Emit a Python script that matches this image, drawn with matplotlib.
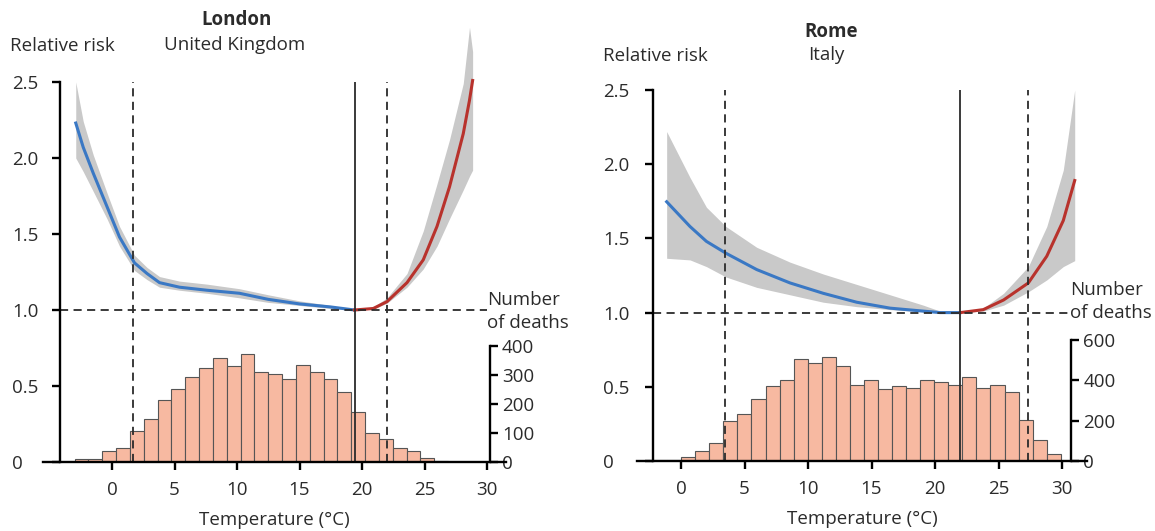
import numpy as np
import matplotlib
matplotlib.use("Agg")
from matplotlib import pyplot as plt

plt.rcParams['font.family'] = ['Open Sans', 'DejaVu Sans']
plt.rcParams['font.size'] = 13.5

# ---- London data ----
lon_cold_t = [-2.9, -2.3, -1.5, -0.4, 0.6, 1.8, 2.8, 3.8, 5.4, 7.6, 10.2, 12.5, 15.0, 17.5, 19.4]
lon_cold_rr = [2.23, 2.07, 1.90, 1.68, 1.48, 1.31, 1.24, 1.18, 1.15, 1.13, 1.11, 1.07, 1.04, 1.02, 1.0]
lon_cold_hi = [2.5, 2.24, 2.02, 1.77, 1.55, 1.36, 1.28, 1.22, 1.19, 1.17, 1.14, 1.10, 1.06, 1.03, 1.0]
lon_cold_lo = [2.0, 1.91, 1.78, 1.60, 1.42, 1.26, 1.20, 1.15, 1.13, 1.11, 1.08, 1.05, 1.03, 1.01, 1.0]

lon_heat_t = [19.4, 20.9, 22.0, 23.6, 24.9, 26.0, 27.0, 28.1, 28.6, 28.85]
lon_heat_rr = [1.0, 1.01, 1.055, 1.18, 1.33, 1.55, 1.81, 2.16, 2.38, 2.51]
lon_heat_hi = [1.0, 1.02, 1.08, 1.24, 1.52, 1.83, 2.12, 2.49, 2.86, 2.70]
lon_heat_lo = [1.0, 1.005, 1.045, 1.15, 1.27, 1.42, 1.60, 1.79, 1.88, 1.92]

lon_deaths = [10, 10, 38, 50, 107, 148, 216, 252, 293, 327, 360, 334, 373, 311,
              305, 288, 335, 311, 289, 243, 172, 99, 81, 50, 37, 15, 5]
lon_bin_start = -3.0
lon_mmt, lon_cold, lon_hot = 19.4, 1.7, 22.0

# ---- Rome data ----
rom_cold_t = [-1.13, 0.71, 2.0, 3.54, 5.96, 8.58, 11.2, 13.83, 16.46, 19.08, 20.4, 22.0]
rom_cold_rr = [1.747, 1.58, 1.48, 1.40, 1.29, 1.20, 1.13, 1.07, 1.03, 1.01, 1.0, 1.0]
rom_cold_hi = [2.22, 1.91, 1.71, 1.58, 1.44, 1.34, 1.26, 1.19, 1.12, 1.05, 1.01, 1.0]
rom_cold_lo = [1.366, 1.355, 1.31, 1.24, 1.17, 1.12, 1.07, 1.04, 1.02, 1.005, 1.0, 1.0]

rom_heat_t = [22.0, 23.8, 25.4, 27.35, 28.8, 30.1, 31.0]
rom_heat_rr = [1.0, 1.02, 1.085, 1.20, 1.38, 1.62, 1.89]
rom_heat_hi = [1.0, 1.03, 1.13, 1.31, 1.58, 1.96, 2.50]
rom_heat_lo = [1.0, 1.01, 1.05, 1.14, 1.22, 1.31, 1.35]

rom_deaths = [5, 5, 22, 50, 88, 200, 233, 305, 372, 400, 503, 483, 513, 470, 378,
              400, 358, 370, 362, 400, 392, 375, 413, 362, 378, 342, 203, 105, 33]
rom_bin_start = -2.2
rom_mmt, rom_cold, rom_hot = 22.0, 3.5, 27.3

bin_w = 1.107

txt = '#2b2b2b'
blue = '#3a78c4'
red = '#b8322c'
band = '#c9c9c9'
bar_face = '#f7b9a1'
bar_edge = '#555555'


def panel(rect, xlim, ylim, yspine_x, dspine_x, deaths_per_rr, dmax, dticks,
          cold, heat, deaths, bin_start, lines, hline_end, ypad):
    ax = fig.add_axes(rect)
    ax2 = ax.twinx()
    ax.set_zorder(ax2.get_zorder() + 1)
    ax.patch.set_visible(False)

    # histogram of deaths
    edges = bin_start + bin_w * np.arange(len(deaths))
    ax2.bar(edges, deaths, width=bin_w, align='edge', color=bar_face,
            edgecolor=bar_edge, linewidth=0.8)

    # relative risk curves
    t, rr, hi, lo = cold
    ax.fill_between(t, lo, hi, color=band, lw=0)
    ax.plot(t, rr, color=blue, lw=2.2)
    t, rr, hi, lo = heat
    ax.fill_between(t, lo, hi, color=band, lw=0)
    ax.plot(t, rr, color=red, lw=2.2)

    mmt, c, h = lines
    ax.hlines(1.0, yspine_x, hline_end, colors=txt, linestyles=(0, (4.5, 3)), lw=1.3)
    ax.vlines([c, h], 0, 2.5, colors=txt, linestyles=(0, (4.5, 3)), lw=1.3)
    ax.vlines(mmt, 0, 2.5, colors=txt, lw=1.3)

    ax.set_xlim(*xlim)
    ax.set_ylim(*ylim)
    ax2.set_ylim(ylim[0] * deaths_per_rr, ylim[1] * deaths_per_rr)

    for s in ['top', 'right']:
        ax.spines[s].set_visible(False)
    for s in ['top', 'left', 'bottom']:
        ax2.spines[s].set_visible(False)
    ax.spines['left'].set_position(('data', yspine_x))
    ax.spines['left'].set_bounds(0, 2.5)
    ax.spines['left'].set_linewidth(1.7)
    ax.spines['bottom'].set_linewidth(1.7)
    ax2.spines['right'].set_position(('data', dspine_x))
    ax2.spines['right'].set_bounds(0, dmax)
    ax2.spines['right'].set_linewidth(1.7)

    ax.set_xticks([0, 5, 10, 15, 20, 25, 30])
    ax.set_yticks([0, 0.5, 1.0, 1.5, 2.0, 2.5])
    ax.set_yticklabels(['0', '0.5', '1.0', '1.5', '2.0', '2.5'])
    ax2.set_yticks(dticks)
    ax.tick_params(axis='x', length=6, width=1.7, colors='black', labelcolor=txt, pad=8)
    ax.tick_params(axis='y', length=6, width=1.7, colors='black', labelcolor=txt, pad=ypad)
    for lab in ax.get_yticklabels():
        lab.set_horizontalalignment('left')
    ax2.tick_params(axis='y', length=6, width=1.7, colors='black', labelcolor=txt, pad=3)
    ax.set_xlabel('Temperature (°C)', color=txt, labelpad=8)
    return ax


fig = plt.figure(figsize=(11.55, 5.31), dpi=100)

panel([0.03745, 0.12994, 0.40043, 0.83014], (-5.5, 31.5), (0, 2.9), -4.2, 30.2,
      526.3, 400, [0, 100, 200, 300, 400],
      (lon_cold_t, lon_cold_rr, lon_cold_hi, lon_cold_lo),
      (lon_heat_t, lon_heat_rr, lon_heat_hi, lon_heat_lo),
      lon_deaths, lon_bin_start, (lon_mmt, lon_cold, lon_hot), 30.0, 28)

panel([0.55113, 0.13183, 0.39035, 0.72663], (-3.5, 32.0), (0, 2.6), -2.2, 30.7,
      733.5, 600, [0, 200, 400, 600],
      (rom_cold_t, rom_cold_rr, rom_cold_hi, rom_cold_lo),
      (rom_heat_t, rom_heat_rr, rom_heat_hi, rom_heat_lo),
      rom_deaths, rom_bin_start, (rom_mmt, rom_cold, rom_hot), 30.6, 30)


def ftext(x, y, s, **kw):
    fig.text(x / 1155, 1 - y / 531, s, color=txt, va='center', **kw)


ftext(237, 20, 'London', ha='center', fontweight='bold')
ftext(235, 45, 'United Kingdom', ha='center')
ftext(10, 46, 'Relative risk', ha='left')
ftext(487, 300, 'Number', ha='left')
ftext(487, 323, 'of deaths', ha='left')

ftext(831, 32, 'Rome', ha='center', fontweight='bold')
ftext(826, 55, 'Italy', ha='center')
ftext(603, 56, 'Relative risk', ha='left')
ftext(1070, 290, 'Number', ha='left')
ftext(1070, 313, 'of deaths', ha='left')

fig.savefig('out.png', dpi=100)
